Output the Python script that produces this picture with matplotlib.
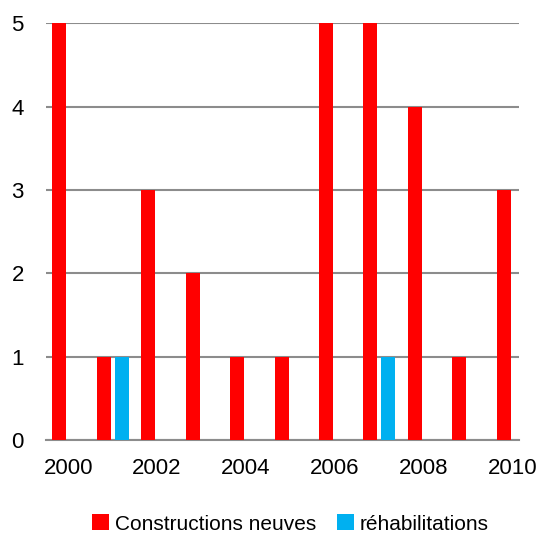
import numpy as np
import matplotlib.pyplot as plt

plt.rcParams['font.family'] = ['Liberation Sans', 'DejaVu Sans']

years = [2000, 2001, 2002, 2003, 2004, 2005, 2006, 2007, 2008, 2009, 2010]
constructions = [5, 1, 3, 2, 1, 1, 5, 5, 4, 1, 3]
rehabilitations = [0, 1, 0, 0, 0, 0, 0, 1, 0, 0, 0]
tick_years = [2000, 2002, 2004, 2006, 2008, 2010]

fig = plt.figure(figsize=(5.41, 5.38), dpi=100)
ax = fig.add_axes([0.085, 0.182, 0.874, 0.775])

x = np.arange(len(years))
w = 0.315
ax.bar(x - 0.2, constructions, w, color='#ff0000', label='Constructions neuves', zorder=3)
ax.bar(x + 0.2, rehabilitations, w, color='#00b0f0', label='réhabilitations', zorder=3)

ax.set_ylim(0, 5)
ax.set_xlim(-0.5, 10.14)
ax.set_yticks(range(6))
ax.set_xticks([years.index(y) for y in tick_years])
ax.set_xticklabels([str(y) for y in tick_years])
ax.tick_params(length=0, labelsize=16)
ax.tick_params(axis='x', pad=13)
ax.tick_params(axis='y', pad=16)

ax.grid(axis='y', color='#8c8c8c', linewidth=1.5, zorder=1)
for s in ['left', 'right', 'top']:
    ax.spines[s].set_visible(False)
ax.spines['bottom'].set_color('#8c8c8c')
ax.spines['bottom'].set_linewidth(1.5)

fig.legend(loc='center', bbox_to_anchor=(0.537, 0.026), ncol=2, frameon=False,
           fontsize=15, handlelength=0.8, handleheight=0.8, handletextpad=0.3,
           columnspacing=1.0)

fig.savefig('out.png', dpi=100)
